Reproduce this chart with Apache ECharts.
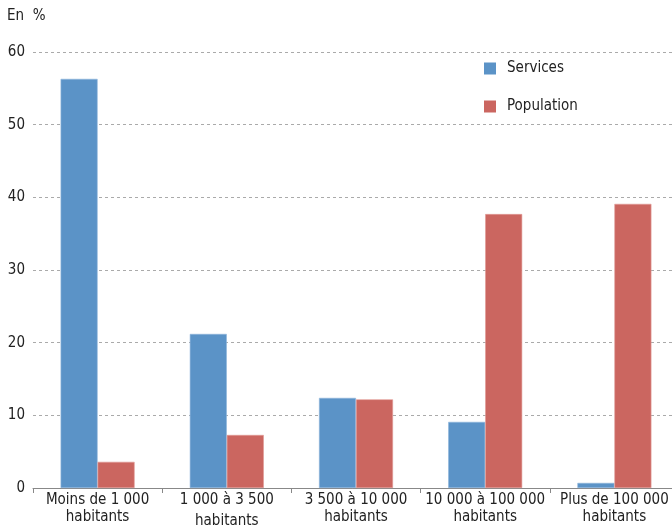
<!DOCTYPE html>
<html>
<head>
<meta charset="utf-8">
<style>
  html, body { margin: 0; padding: 0; background: #fff; }
  #chart { width: 672px; height: 526px; }
</style>
<script src="https://cdn.jsdelivr.net/npm/echarts@6/dist/echarts.min.js"></script>
</head>
<body>
<div id="chart"></div>
<script>
// Size classes of communes
const categories = [
  'Moins de 1 000\nhabitants',
  '1 000 à 3 500\nhabitants',
  '3 500 à 10 000\nhabitants',
  '10 000 à 100 000\nhabitants',
  'Plus de 100 000\nhabitants'
];
// Shares in percent
const services = [56.3, 21.2, 12.4, 9.1, 0.7];
const population = [3.6, 7.3, 12.2, 37.7, 39.1];
const yTicks = { min: 0, max: 60, interval: 10 };

const FONT = '"DejaVu Sans Condensed", "Liberation Sans Narrow", "Open Sans", sans-serif';
const TEXT = '#222';

const chart = echarts.init(document.getElementById('chart'), null, { renderer: 'canvas' });
chart.setOption({
  animation: false,
  textStyle: { fontFamily: FONT },
  graphic: [{
    type: 'text', left: 7, top: 9,
    style: { text: 'En  %', font: '15px ' + FONT, fill: TEXT }
  }],
  legend: {
    orient: 'vertical',
    left: 479, top: 56,
    itemWidth: 12, itemHeight: 12, itemGap: 23,
    icon: 'rect',
    itemStyle: { borderWidth: 0 },
    textStyle: { fontFamily: FONT, fontSize: 15, color: TEXT, padding: [0, 0, 0, 6] },
    data: ['Services', 'Population']
  },
  grid: {
    left: 33, right: -7, top: 52, bottom: 38,
    containLabel: false, outerBoundsMode: 'none'
  },
  xAxis: {
    type: 'category',
    data: categories,
    axisLine: { lineStyle: { color: '#888', width: 1 } },
    axisTick: { show: true, length: 5, lineStyle: { color: '#888' } },
    axisLabel: {
      interval: 0, margin: 4,
      fontFamily: FONT, fontSize: 15, color: TEXT, lineHeight: 17,
      formatter: function (value, idx) {
        const parts = value.split('\n');
        if (idx === 1) return parts[0] + '\n{low|' + parts[1] + '}';
        return value;
      },
      rich: {
        low: { fontFamily: FONT, fontSize: 15, color: TEXT, lineHeight: 17, padding: [7, 0, 0, 0] }
      }
    }
  },
  yAxis: {
    type: 'value',
    min: yTicks.min, max: yTicks.max, interval: yTicks.interval,
    axisLine: { show: false },
    axisTick: { show: false },
    axisLabel: { margin: 8, fontFamily: FONT, fontSize: 15, color: TEXT },
    splitLine: { lineStyle: { color: '#aaa', type: [3, 3], width: 1 } }
  },
  series: [
    {
      name: 'Services', type: 'bar', data: services,
      barWidth: 37, barGap: '0%',
      itemStyle: { color: '#5b93c7', borderColor: '#8fb6dc', borderWidth: 0.6 }
    },
    {
      name: 'Population', type: 'bar', data: population,
      barWidth: 37,
      itemStyle: { color: '#cb6660', borderColor: '#e09a95', borderWidth: 0.6 }
    }
  ]
});
</script>
</body>
</html>
